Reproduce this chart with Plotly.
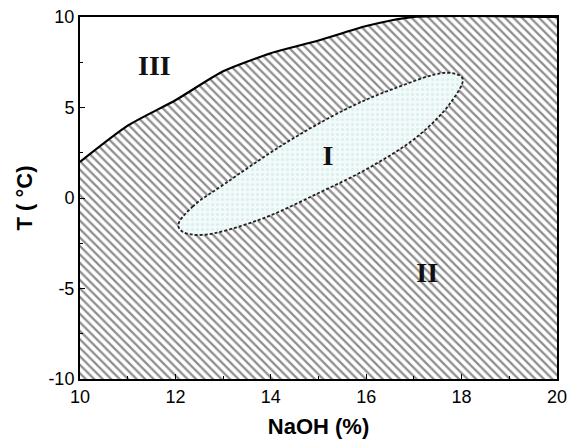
import plotly.graph_objects as go

# Phase boundary between region III (above) and region II (below)
boundary_x = [10, 11, 12, 13, 14, 15, 16, 17, 20]
boundary_y = [2.0, 4.0, 5.4, 7.0, 8.0, 8.7, 9.5, 10.0, 10.0]

# Outline of region I (closed loop)
region1_x = [12.06, 12.36, 13.05, 14.30, 15.54, 16.51, 17.69, 18.02, 17.76,
             17.07, 16.10, 14.99, 13.74, 12.56, 12.15, 12.06]
region1_y = [-1.49, -0.48, 0.81, 3.02, 4.86, 5.97, 6.92, 6.61, 5.23,
             3.39, 1.73, 0.26, -1.22, -2.04, -1.86, -1.49]

# Region labels
label_text = ["III", "I", "II"]
label_x = [11.56, 15.2, 17.28]
label_y = [7.2, 2.2, -4.25]

x_range = [10, 20]
y_range = [-10, 10]
x_ticks = [10, 12, 14, 16, 18, 20]
y_ticks = [-10, -5, 0, 5, 10]
x_ticktext = ["10", "12", "14", "16", "18", "20"]
y_ticktext = ["-10", "-5", "0", "5", "10"]

fig = go.Figure()

# Region II: hatched area under the boundary curve
fig.add_trace(go.Scatter(
    x=boundary_x + [x_range[1], x_range[0], boundary_x[0]],
    y=boundary_y + [y_range[0], y_range[0], boundary_y[0]],
    mode="lines", line=dict(width=0, color="rgba(0,0,0,0)"),
    fill="toself", fillcolor="white",
    fillpattern=dict(shape="\\", fgcolor="#1e1e1e", bgcolor="white",
                     size=6, solidity=0.38),
    hoverinfo="skip", showlegend=False,
))

# Boundary curve
fig.add_trace(go.Scatter(
    x=boundary_x, y=boundary_y, mode="lines",
    line=dict(color="black", width=2.2, shape="spline", smoothing=0.6),
    hoverinfo="skip", showlegend=False,
))

# Region I: light dotted fill with dashed outline
fig.add_trace(go.Scatter(
    x=region1_x, y=region1_y, mode="lines",
    line=dict(color="#222222", width=1.8, dash="3px,2px", shape="spline", smoothing=1.0),
    fill="toself", fillcolor="#f1f9f9",
    fillpattern=dict(shape=".", fgcolor="#c3e2e2", bgcolor="#f3fafa",
                     size=5, solidity=0.3),
    hoverinfo="skip", showlegend=False,
))

# Region labels
fig.add_trace(go.Scatter(
    x=label_x, y=label_y, mode="text", text=["<b>%s</b>" % t for t in label_text],
    textfont=dict(family="Liberation Serif", size=28, color="#111111"),
    hoverinfo="skip", showlegend=False,
))

axis_common = dict(
    showgrid=False, zeroline=False, showline=True, linecolor="black",
    linewidth=2, mirror=True, ticks="inside", ticklen=5, tickwidth=1,
    tickcolor="black", ticklabeloverflow="allow", automargin=False,
    tickfont=dict(family="Liberation Sans", size=18, color="black"),
)

fig.update_xaxes(
    range=x_range, tickvals=x_ticks, ticktext=x_ticktext,
    minor=dict(ticks="inside", ticklen=3, tickwidth=1, tickcolor="black", dtick=1),
    title=dict(text="<b>NaOH (%)</b>", standoff=14,
               font=dict(family="Liberation Sans", size=22, color="black")),
    **axis_common,
)
fig.update_yaxes(
    range=y_range, tickvals=y_ticks, ticktext=y_ticktext,
    minor=dict(ticks="inside", ticklen=3, tickwidth=1, tickcolor="black", dtick=2.5),
    title=dict(text="<b>T ( °C)</b>", standoff=10,
               font=dict(family="Liberation Sans", size=22, color="black")),
    **axis_common,
)

fig.update_layout(
    width=568, height=439,
    margin=dict(l=80, r=11, t=17, b=60),
    plot_bgcolor="white", paper_bgcolor="white",
)

fig.write_html("out.html")
